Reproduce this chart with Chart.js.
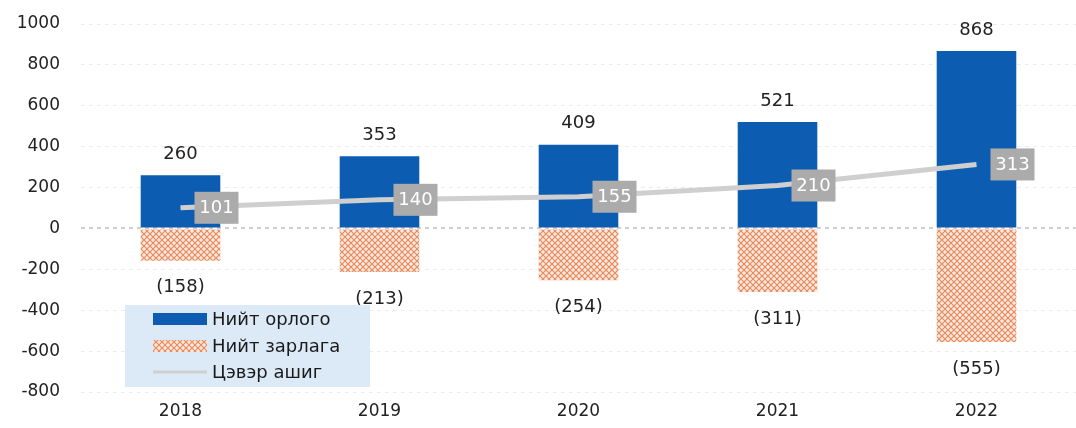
<!DOCTYPE html>
<html>
<head>
<meta charset="utf-8">
<script src="https://cdn.jsdelivr.net/npm/chart.js@4/dist/chart.umd.min.js"></script>
<style>
html,body{margin:0;padding:0;background:#fff;}
#wrap{width:1076px;height:428px;position:relative;}
</style>
</head>
<body>
<div id="wrap"><canvas id="c"></canvas></div>
<script>
const categories = ['2018', '2019', '2020', '2021', '2022'];
const incomeValues = [260, 353, 409, 521, 868];
const expenseValues = [-158, -213, -254, -311, -555];
const profitValues = [101, 140, 155, 210, 313];
const yTicks = [1000, 800, 600, 400, 200, 0, -200, -400, -600, -800];
const legendLabels = ['Нийт орлого', 'Нийт зарлага', 'Цэвэр ашиг'];

const FONT = '"DejaVu Sans", sans-serif';
const BLUE = '#0c5db2';
const ORANGE = '#e58a5e';
const GREY_LINE = '#cfcfcf';
const GREY_BOX = '#ababab';

function makePattern() {
  const t = document.createElement('canvas');
  t.width = 6; t.height = 6;
  const g = t.getContext('2d');
  g.fillStyle = '#fbe9df';
  g.fillRect(0, 0, 6, 6);
  g.strokeStyle = ORANGE;
  g.lineWidth = 1.2;
  g.beginPath();
  g.moveTo(0, 0); g.lineTo(6, 6);
  g.moveTo(6, 0); g.lineTo(0, 6);
  g.stroke();
  return document.getElementById('c').getContext('2d').createPattern(t, 'repeat');
}
const pattern = makePattern();

const labelPlugin = {
  id: 'labels',
  afterDatasetsDraw(chart) {
    const ctx = chart.ctx;
    ctx.save();
    ctx.font = '18px ' + FONT;
    ctx.fillStyle = '#222';
    ctx.textAlign = 'center';
    ctx.textBaseline = 'middle';
    chart.getDatasetMeta(0).data.forEach((el, i) => {
      ctx.fillText(String(incomeValues[i]), el.x, el.y - 21);
    });
    chart.getDatasetMeta(1).data.forEach((el, i) => {
      ctx.fillText('(' + (-expenseValues[i]) + ')', el.x, el.y + 27);
    });
    chart.getDatasetMeta(2).data.forEach((el, i) => {
      const cx = el.x + 36, cy = el.y;
      const w = 44, h = 32;
      ctx.fillStyle = GREY_BOX;
      ctx.fillRect(cx - w / 2, cy - h / 2, w, h);
      ctx.fillStyle = '#fff';
      ctx.font = '18px ' + FONT;
      ctx.fillText(String(profitValues[i]), cx, cy + 1);
    });
    const lx = 125, ly = 305, lw = 245, lh = 82;
    ctx.fillStyle = '#dceaf8';
    ctx.fillRect(lx, ly, lw, lh);
    const rows = [319, 346, 372];
    ctx.fillStyle = BLUE;
    ctx.fillRect(153, rows[0] - 6, 54, 12);
    ctx.fillStyle = pattern;
    ctx.fillRect(153, rows[1] - 6, 54, 12);
    ctx.strokeStyle = GREY_LINE;
    ctx.lineWidth = 3;
    ctx.beginPath();
    ctx.moveTo(153, rows[2]); ctx.lineTo(207, rows[2]);
    ctx.stroke();
    ctx.fillStyle = '#1a1a1a';
    ctx.textAlign = 'left';
    ctx.font = '18px ' + FONT;
    legendLabels.forEach((t, i) => ctx.fillText(t, 212, rows[i] + 1));
    ctx.restore();
  }
};

new Chart(document.getElementById('c'), {
  type: 'bar',
  data: {
    labels: categories,
    datasets: [
      { label: legendLabels[0], data: incomeValues, backgroundColor: BLUE, barPercentage: 0.8, categoryPercentage: 0.5, order: 2 },
      { label: legendLabels[1], data: expenseValues, backgroundColor: pattern, barPercentage: 0.8, categoryPercentage: 0.5, order: 2 },
      { type: 'line', label: legendLabels[2], data: profitValues, borderColor: GREY_LINE, borderWidth: 5, pointRadius: 0, fill: false, tension: 0, order: 1 }
    ]
  },
  options: {
    responsive: true,
    maintainAspectRatio: false,
    animation: false,
    events: [],
    layout: { padding: { top: 24, right: -5, left: 0, bottom: 0 } },
    plugins: { legend: { display: false }, tooltip: { enabled: false } },
    scales: {
      x: {
        stacked: true,
        afterFit(s) { s.height = 36; s.paddingLeft = 0; s.paddingRight = 0; },
        grid: { display: false },
        border: { display: false },
        ticks: { font: { family: FONT, size: 17 }, color: '#222', padding: 1 }
      },
      y: {
        min: -800, max: 1000,
        afterBuildTicks(s) { s.ticks = yTicks.slice().reverse().map(v => ({ value: v })); },
        afterFit(s) { s.width = 81; s.paddingTop = 0; s.paddingBottom = 0; },
        grid: {
          color: ctx => ctx.tick && ctx.tick.value === 0 ? '#cfcfcf' : '#ececec',
          lineWidth: ctx => ctx.tick && ctx.tick.value === 0 ? 2 : 1,
          drawTicks: false
        },
        border: { display: false, dash: [4, 4] },
        ticks: { font: { family: FONT, size: 17 }, color: '#222', padding: 21, callback: v => String(v) }
      }
    }
  },
  plugins: [labelPlugin]
});
</script>
</body>
</html>
